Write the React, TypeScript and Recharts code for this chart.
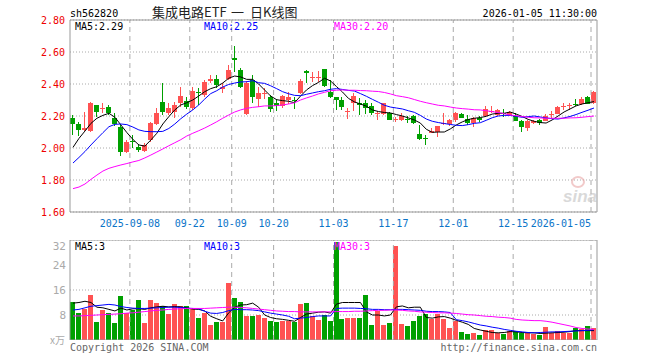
import React from "react";
import {
  ComposedChart,
  Bar,
  Line,
  XAxis,
  YAxis,
  CartesianGrid,
  ReferenceLine,
} from "recharts";

const dates = [
  "2025-08-25", "2025-08-26", "2025-08-27", "2025-08-28", "2025-08-29",
  "2025-09-01", "2025-09-02", "2025-09-03", "2025-09-04", "2025-09-05",
  "2025-09-08", "2025-09-09", "2025-09-10", "2025-09-11", "2025-09-12",
  "2025-09-15", "2025-09-16", "2025-09-17", "2025-09-18", "2025-09-19",
  "2025-09-22", "2025-09-23", "2025-09-24", "2025-09-25", "2025-09-26",
  "2025-09-29", "2025-09-30", "2025-10-09", "2025-10-10", "2025-10-13",
  "2025-10-14", "2025-10-15", "2025-10-16", "2025-10-17", "2025-10-20",
  "2025-10-21", "2025-10-22", "2025-10-23", "2025-10-24", "2025-10-27",
  "2025-10-28", "2025-10-29", "2025-10-30", "2025-10-31", "2025-11-03",
  "2025-11-04", "2025-11-05", "2025-11-06", "2025-11-07", "2025-11-10",
  "2025-11-11", "2025-11-12", "2025-11-13", "2025-11-14", "2025-11-17",
  "2025-11-18", "2025-11-19", "2025-11-20", "2025-11-21", "2025-11-24",
  "2025-11-25", "2025-11-26", "2025-11-27", "2025-11-28", "2025-12-01",
  "2025-12-02", "2025-12-03", "2025-12-04", "2025-12-05", "2025-12-08",
  "2025-12-09", "2025-12-10", "2025-12-11", "2025-12-12", "2025-12-15",
  "2025-12-16", "2025-12-17", "2025-12-18", "2025-12-19", "2025-12-22",
  "2025-12-23", "2025-12-24", "2025-12-25", "2025-12-26", "2025-12-29",
  "2025-12-30", "2025-12-31", "2026-01-05",
];

const opens = [
  2.189, 2.15, 2.113, 2.106, 2.269, 2.245, 2.256, 2.189, 2.133, 1.977,
  2.042, 2.008, 1.983, 2.05, 2.15, 2.289, 2.217, 2.227, 2.279, 2.294,
  2.248, 2.35, 2.331, 2.414, 2.429, 2.373, 2.429, 2.56, 2.488, 2.217,
  2.425, 2.311, 2.34, 2.321, 2.283, 2.263, 2.3, 2.302, 2.346, 2.48,
  2.44, 2.443, 2.494, 2.352, 2.317, 2.3, 2.228, 2.279, 2.283, 2.279,
  2.263, 2.215, 2.213, 2.221, 2.178, 2.175, 2.18, 2.2, 2.087, 2.062,
  2.092, 2.1, 2.152, 2.148, 2.175, 2.212, 2.181, 2.158, 2.19, 2.196,
  2.228, 2.206, 2.218, 2.21, 2.2, 2.169, 2.127, 2.154, 2.175, 2.17,
  2.21, 2.212, 2.262, 2.263, 2.275, 2.273, 2.321, 2.279,
];
const closes = [
  2.154, 2.113, 2.127, 2.283, 2.227, 2.25, 2.219, 2.15, 1.977, 2.04,
  2.038, 1.987, 2.019, 2.154, 2.219, 2.227, 2.248, 2.269, 2.325, 2.258,
  2.356, 2.345, 2.414, 2.429, 2.389, 2.383, 2.488, 2.55, 2.383, 2.408,
  2.321, 2.346, 2.342, 2.248, 2.263, 2.325, 2.321, 2.3, 2.42, 2.47,
  2.442, 2.445, 2.39, 2.321, 2.3, 2.258, 2.232, 2.325, 2.269, 2.248,
  2.217, 2.217, 2.279, 2.179, 2.182, 2.2, 2.177, 2.154, 2.054, 2.06,
  2.106, 2.137, 2.156, 2.175, 2.217, 2.186, 2.158, 2.19, 2.18, 2.242,
  2.232, 2.238, 2.215, 2.227, 2.17, 2.129, 2.169, 2.169, 2.154, 2.202,
  2.213, 2.254, 2.265, 2.266, 2.27, 2.306, 2.279, 2.348,
];
const highs = [
  2.206, 2.164, 2.227, 2.289, 2.269, 2.279, 2.269, 2.217, 2.144, 2.05,
  2.081, 2.025, 2.029, 2.164, 2.248, 2.406, 2.279, 2.289, 2.383, 2.321,
  2.383, 2.373, 2.425, 2.456, 2.456, 2.404, 2.519, 2.64, 2.498, 2.419,
  2.456, 2.383, 2.377, 2.331, 2.304, 2.331, 2.352, 2.321, 2.429, 2.488,
  2.477, 2.48, 2.494, 2.425, 2.317, 2.321, 2.252, 2.342, 2.311, 2.3,
  2.279, 2.233, 2.283, 2.227, 2.196, 2.217, 2.2, 2.206, 2.144, 2.081,
  2.123, 2.14, 2.221, 2.181, 2.227, 2.22, 2.206, 2.196, 2.2, 2.263,
  2.263, 2.244, 2.242, 2.233, 2.217, 2.175, 2.175, 2.175, 2.181, 2.21,
  2.233, 2.262, 2.283, 2.283, 2.304, 2.321, 2.325, 2.356,
];
const lows = [
  2.081, 2.075, 2.11, 2.1, 2.196, 2.217, 2.206, 2.133, 1.95, 1.967,
  1.998, 1.977, 1.975, 2.04, 2.144, 2.206, 2.206, 2.186, 2.258, 2.248,
  2.238, 2.269, 2.321, 2.404, 2.373, 2.342, 2.425, 2.48, 2.373, 2.206,
  2.279, 2.258, 2.311, 2.227, 2.227, 2.248, 2.279, 2.248, 2.338, 2.404,
  2.414, 2.414, 2.38, 2.311, 2.238, 2.238, 2.181, 2.227, 2.206, 2.211,
  2.206, 2.175, 2.206, 2.175, 2.165, 2.169, 2.158, 2.15, 2.05, 2.019,
  2.092, 2.071, 2.148, 2.14, 2.165, 2.186, 2.144, 2.133, 2.16, 2.192,
  2.217, 2.2, 2.192, 2.2, 2.165, 2.1, 2.108, 2.15, 2.144, 2.165,
  2.192, 2.21, 2.242, 2.242, 2.258, 2.269, 2.275, 2.275,
];

const ma5 = [
  2.004, 2.06, 2.106, 2.154, 2.186, 2.204, 2.217, 2.192, 2.144, 2.096,
  2.054, 2.019, 2.012, 2.05, 2.092, 2.15, 2.196, 2.238, 2.269, 2.283,
  2.3, 2.325, 2.352, 2.371, 2.383, 2.406, 2.436, 2.45, 2.444, 2.429,
  2.429, 2.4, 2.362, 2.325, 2.302, 2.296, 2.292, 2.283, 2.325, 2.363,
  2.39, 2.41, 2.436, 2.419, 2.384, 2.35, 2.31, 2.288, 2.275, 2.261,
  2.238, 2.228, 2.222, 2.219, 2.209, 2.2, 2.188, 2.175, 2.156, 2.117,
  2.098, 2.1, 2.1, 2.119, 2.144, 2.163, 2.178, 2.186, 2.19, 2.198,
  2.212, 2.217, 2.217, 2.225, 2.212, 2.197, 2.179, 2.167, 2.159, 2.156,
  2.175, 2.2, 2.225, 2.244, 2.263, 2.275, 2.283, 2.29,
];
const ma10 = [
  1.906, 1.941, 1.978, 2.019, 2.058, 2.096, 2.133, 2.148, 2.15, 2.146,
  2.131, 2.113, 2.104, 2.102, 2.102, 2.104, 2.122, 2.15, 2.183, 2.212,
  2.238, 2.269, 2.306, 2.34, 2.358, 2.381, 2.397, 2.406, 2.413, 2.414,
  2.421, 2.408, 2.404, 2.389, 2.371, 2.352, 2.339, 2.329, 2.327, 2.336,
  2.344, 2.352, 2.358, 2.367, 2.371, 2.366, 2.36, 2.356, 2.34, 2.323,
  2.304, 2.286, 2.267, 2.256, 2.25, 2.244, 2.233, 2.223, 2.204, 2.181,
  2.167, 2.159, 2.153, 2.147, 2.142, 2.14, 2.146, 2.154, 2.158, 2.173,
  2.189, 2.2, 2.204, 2.204, 2.198, 2.192, 2.196, 2.2, 2.194, 2.188,
  2.183, 2.181, 2.188, 2.197, 2.209, 2.223, 2.236, 2.25,
];
const ma30 = [
  1.746, 1.756, 1.775, 1.804, 1.831, 1.856, 1.873, 1.884, 1.894, 1.903,
  1.913, 1.922, 1.938, 1.956, 1.975, 1.994, 2.014, 2.033, 2.052, 2.075,
  2.092, 2.108, 2.125, 2.144, 2.164, 2.186, 2.206, 2.225, 2.238, 2.248,
  2.254, 2.258, 2.263, 2.263, 2.265, 2.269, 2.275, 2.283, 2.3, 2.313,
  2.325, 2.338, 2.348, 2.358, 2.361, 2.363, 2.361, 2.361, 2.359, 2.358,
  2.355, 2.353, 2.347, 2.338, 2.327, 2.321, 2.314, 2.303, 2.292, 2.283,
  2.275, 2.267, 2.263, 2.256, 2.25, 2.246, 2.243, 2.239, 2.238, 2.233,
  2.227, 2.222, 2.214, 2.206, 2.202, 2.197, 2.192, 2.189, 2.188, 2.186,
  2.186, 2.186, 2.186, 2.188, 2.189, 2.192, 2.196, 2.2,
];

const vols = [
  12.3, 8.5, 9.9, 14.4, 5.9, 9.6, 8.5, 5.6, 14.1, 8.5,
  9.6, 12.8, 5.6, 12.8, 12.0, 10.9, 8.3, 11.5, 10.9, 10.9,
  10.4, 7.2, 8.7, 4.8, 5.9, 5.9, 18.3, 13.5, 12.3, 7.7,
  7.7, 8.0, 7.0, 6.2, 5.9, 6.2, 6.2, 5.9, 11.5, 12.0,
  7.7, 6.4, 8.0, 6.2, 31.5, 6.6, 7.2, 6.9, 6.9, 14.4,
  4.8, 9.3, 4.8, 5.3, 30.1, 5.1, 4.5, 6.2, 7.7, 8.3,
  6.6, 8.3, 6.6, 3.9, 6.2, 2.6, 1.9, 2.1, 1.6, 3.2,
  3.2, 2.4, 1.9, 2.9, 2.9, 2.4, 2.1, 1.9, 1.6, 4.1,
  2.4, 2.9, 2.4, 2.4, 3.9, 3.4, 4.5, 3.7,
];
const vma5 = [
  11.8, 12.0, 12.4, 12.0, 10.5, 10.3, 9.8, 9.3, 10.2, 9.6,
  10.0, 10.0, 9.8, 10.3, 10.6, 10.8, 10.6, 10.7, 10.6, 10.3,
  9.9, 9.8, 9.3, 7.6, 6.8, 6.1, 8.7, 10.5, 11.2, 11.3,
  11.8, 10.5, 8.0, 7.2, 6.8, 6.6, 6.3, 6.0, 7.2, 8.3,
  8.6, 8.9, 9.0, 8.6, 11.5, 12.0, 12.0, 12.0, 12.0, 9.0,
  8.0, 8.0, 7.7, 8.0, 10.6, 10.9, 10.3, 10.5, 10.5, 7.2,
  7.0, 7.4, 7.5, 7.0, 6.3, 5.7, 5.0, 3.7, 3.2, 2.8,
  2.4, 2.3, 2.4, 2.7, 2.6, 2.4, 2.3, 2.3, 2.1, 2.2,
  2.3, 2.4, 2.5, 2.7, 3.0, 3.0, 3.0, 3.0,
];
const vma10 = [
  9.6, 9.8, 10.3, 10.8, 11.0, 11.2, 11.4, 11.2, 10.7, 10.4,
  10.2, 10.1, 10.1, 10.2, 10.3, 10.4, 10.5, 10.5, 10.4, 10.2,
  10.1, 10.0, 9.2, 8.6, 8.5, 8.8, 9.4, 9.8, 9.7, 9.7,
  9.6, 9.4, 9.0, 8.6, 8.3, 8.0, 7.6, 6.8, 7.0, 7.2,
  7.5, 7.7, 7.7, 7.7, 10.1, 10.2, 10.2, 10.2, 10.1, 10.0,
  9.8, 9.8, 9.7, 9.7, 9.8, 9.8, 9.7, 9.6, 9.5, 9.2,
  9.1, 9.1, 9.0, 8.8, 6.5, 6.2, 5.8, 5.3, 4.8, 4.5,
  4.1, 3.8, 3.4, 3.1, 2.8, 2.6, 2.4, 2.3, 2.4, 2.5,
  2.6, 2.6, 2.7, 2.8, 2.9, 3.0, 3.1, 3.3,
];
const vma30 = [
  7.7, 7.7, 7.8, 7.9, 8.0, 8.1, 8.2, 8.3, 8.4, 8.6,
  8.7, 8.9, 9.1, 9.3, 9.5, 9.6, 9.8, 9.9, 10.0, 10.1,
  10.1, 10.1, 10.1, 10.2, 10.3, 10.4, 10.5, 10.5, 10.4, 10.3,
  10.1, 9.9, 9.7, 9.5, 9.3, 9.2, 9.1, 9.1, 9.0, 9.0,
  9.0, 9.0, 9.0, 9.0, 9.1, 9.1, 9.1, 9.2, 9.2, 9.3,
  9.4, 9.5, 9.5, 9.6, 9.6, 9.5, 9.3, 9.2, 9.0, 8.9,
  8.8, 8.7, 8.7, 8.6, 8.5, 8.3, 8.1, 8.0, 7.8, 7.6,
  7.5, 7.3, 7.2, 7.0, 6.6, 6.4, 6.3, 6.2, 6.2, 6.0,
  5.7, 5.3, 4.9, 4.5, 4.0, 3.7, 3.5, 3.4,
];

const tickDates = [
  "2025-09-08", "2025-09-22", "2025-10-09", "2025-10-20", "2025-11-03",
  "2025-11-17", "2025-12-01", "2025-12-15", "2026-01-05",
];
const tickLabels = [
  "2025-09-08", "09-22", "10-09", "10-20", "11-03",
  "11-17", "12-01", "12-15", "2026-01-05",
];
const priceTicks = [1.6, 1.8, 2.0, 2.2, 2.4, 2.6, 2.8];
const volTicks = [8, 16, 24, 32];

const UP = "#ff5252";
const DOWN = "#00a000";
const GRID = "#aaaaaa";
const FRAME = "#999999";
const DATE_BLUE = "#0a74c8";
const MONO = "'DejaVu Sans Mono', monospace";
const CJK = "'Noto Sans CJK SC', sans-serif";

const rows = dates.map((d, i) => ({
  date: d,
  open: opens[i],
  close: closes[i],
  high: highs[i],
  low: lows[i],
  range: [lows[i], highs[i]],
  ma5: ma5[i],
  ma10: ma10[i],
  ma30: ma30[i],
  vol: vols[i],
  vma5: vma5[i],
  vma10: vma10[i],
  vma30: vma30[i],
}));

const Candle = (props: any) => {
  const { x, y, width, height, payload } = props;
  const top = Math.min(y, y + height);
  const h = Math.abs(height);
  const span = payload.high - payload.low;
  const py = (v: number) => (span > 0 ? top + ((payload.high - v) / span) * h : top);
  const left = Math.round(x + width / 2 - 3);
  const color = payload.close >= payload.open ? UP : DOWN;
  const yo = py(payload.open);
  const yc = py(payload.close);
  const bTop = Math.round(Math.min(yo, yc));
  const bH = Math.max(1, Math.round(Math.abs(yo - yc)));
  return (
    <g shapeRendering="crispEdges">
      <rect x={left + 2} y={Math.round(top)} width={1} height={Math.max(1, Math.round(h))} fill={color} />
      <rect x={left} y={bTop} width={5} height={bH} fill={color} />
    </g>
  );
};

const VolBar = (props: any) => {
  const { x, y, width, height, payload } = props;
  const left = Math.round(x + width / 2 - 3);
  const color = payload.close >= payload.open ? UP : DOWN;
  return (
    <rect
      shapeRendering="crispEdges"
      x={left}
      y={Math.round(y)}
      width={5}
      height={Math.max(0, Math.round(height))}
      fill={color}
    />
  );
};

const DateTick = (props: any) => {
  const { x, y, payload } = props;
  const idx = tickDates.indexOf(payload.value);
  if (idx < 0) return null;
  const last = idx === tickDates.length - 1;
  return (
    <text
      x={x - 3}
      y={y}
      dy={13}
      textAnchor={last ? "end" : "middle"}
      fill={DATE_BLUE}
      fontSize={10}
      fontFamily={MONO}
    >
      {tickLabels[idx]}
    </text>
  );
};

const App = () => {
  return (
    <div
      style={{
        position: "absolute",
        left: 0,
        top: 0,
        width: 660,
        height: 360,
        background: "#fff",
        overflow: "hidden",
      }}
    >
      <div style={{ position: "absolute", left: 0, top: 0 }}>
        <ComposedChart
          width={660}
          height={232}
          data={rows}
          margin={{ top: 20, right: 63, bottom: 0, left: 10 }}
          barCategoryGap={0}
        >
          <CartesianGrid vertical={false} stroke={GRID} strokeDasharray="1 2" />
          <XAxis
            dataKey="date"
            ticks={tickDates}
            interval={0}
            height={20}
            tickLine={false}
            tickSize={0}
            axisLine={{ stroke: FRAME }}
            tick={<DateTick />}
          />
          <YAxis
            domain={[1.6, 2.8]}
            ticks={priceTicks}
            width={60}
            tickLine={false}
            tickSize={0}
            tickMargin={5}
            axisLine={{ stroke: FRAME }}
            tickFormatter={(v: number) => v.toFixed(2)}
            tick={{ fill: "#ee0000", fontSize: 10, fontFamily: MONO }}
          />
          {tickDates.map((d) => (
            <ReferenceLine key={d} x={d} position="start" stroke={GRID} strokeDasharray="5 4" />
          ))}
          <ReferenceLine y={2.8} stroke={FRAME} />
          <ReferenceLine x={dates[dates.length - 1]} position="end" stroke={FRAME} />
          <Bar dataKey="range" shape={<Candle />} isAnimationActive={false} />
          <Line dataKey="ma5" type="linear" stroke="#000" strokeWidth={1} dot={false} isAnimationActive={false} />
          <Line dataKey="ma10" type="linear" stroke="#0000ff" strokeWidth={1} dot={false} isAnimationActive={false} />
          <Line dataKey="ma30" type="linear" stroke="#ff00ff" strokeWidth={1} dot={false} isAnimationActive={false} />
        </ComposedChart>
      </div>

      <div style={{ position: "absolute", left: 0, top: 240 }}>
        <ComposedChart
          width={660}
          height={100}
          data={rows}
          margin={{ top: 0, right: 63, bottom: 0, left: 10 }}
          barCategoryGap={0}
        >
          <CartesianGrid vertical={false} stroke={GRID} strokeDasharray="1 2" />
          <XAxis dataKey="date" hide />
          <YAxis
            domain={[0, 32]}
            ticks={volTicks}
            width={60}
            tickLine={false}
            tickSize={0}
            tickMargin={4}
            axisLine={{ stroke: FRAME }}
            tick={{ fill: "#aaaaaa", fontSize: 11, fontFamily: MONO }}
          />
          {tickDates.map((d) => (
            <ReferenceLine key={d} x={d} position="start" stroke={GRID} strokeDasharray="5 4" />
          ))}
          <ReferenceLine y={32} stroke={FRAME} />
          <ReferenceLine y={0} stroke={FRAME} />
          <ReferenceLine x={dates[dates.length - 1]} position="end" stroke={FRAME} />
          <Bar dataKey="vol" shape={<VolBar />} isAnimationActive={false} />
          <Line dataKey="vma5" type="linear" stroke="#000" strokeWidth={1} dot={false} isAnimationActive={false} />
          <Line dataKey="vma10" type="linear" stroke="#0000ff" strokeWidth={1} dot={false} isAnimationActive={false} />
          <Line dataKey="vma30" type="linear" stroke="#ff00ff" strokeWidth={1} dot={false} isAnimationActive={false} />
        </ComposedChart>
      </div>

      <svg
        width={660}
        height={360}
        style={{ position: "absolute", left: 0, top: 0, pointerEvents: "none" }}
      >
        <g fontFamily={MONO} fontSize={10}>
          <text x={70} y={17} fill="#000">sh562820</text>
          <text x={597} y={17} fill="#000" textAnchor="end">2026-01-05 11:30:00</text>
          <text x={75} y={30} fill="#000">MA5:2.29</text>
          <text x={204} y={30} fill="#0000ff">MA10:2.25</text>
          <text x={334} y={30} fill="#ff00ff">MA30:2.20</text>
          <text x={75} y={250} fill="#000">MA5:3</text>
          <text x={204} y={250} fill="#0000ff">MA10:3</text>
          <text x={334} y={250} fill="#ff00ff">MA30:3</text>
          <text x={70} y={351} fill="#666">Copyright 2026 SINA.COM</text>
          <text x={597} y={351} fill="#666" textAnchor="end">http://finance.sina.com.cn</text>
        </g>
        <text x={65} y={344} fill="#aaaaaa" fontSize={10} textAnchor="end" fontFamily={CJK}>
          x万
        </text>
        <g fill="#222" fontSize={13} fontFamily={CJK}>
          <text x={152} y={17}>集成电路ETF</text>
          <text x={231} y={17}>一</text>
          <text x={250} y={17}>日K线图</text>
        </g>
        <g opacity={0.55}>
          <ellipse cx={578} cy={182} rx={6} ry={5} fill="none" stroke="#e8a0a0" strokeWidth={2} />
          <text x={563} y={202} fill="#bbbbbb" fontSize={17} fontWeight="bold" fontStyle="italic" fontFamily="'Liberation Sans', sans-serif">
            sina
          </text>
        </g>
      </svg>
    </div>
  );
};

export default App;
